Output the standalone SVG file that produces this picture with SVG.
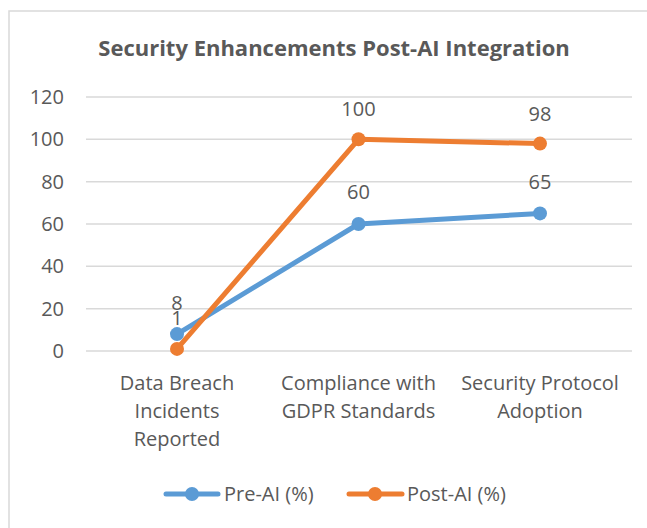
<svg xmlns="http://www.w3.org/2000/svg" width="647" height="528" viewBox="0 0 647 528">
<style>
.t{font-family:"Open Sans","DejaVu Sans",sans-serif;fill:#595959;font-size:20px}
.ttl{font-family:"Open Sans","DejaVu Sans",sans-serif;fill:#595959;font-size:22px;font-weight:bold}
.grid{stroke:#d9d9d9;stroke-width:1.5}
.pre{stroke:#5b9bd5;stroke-width:5;fill:none;stroke-linejoin:round;stroke-linecap:round}
.post{stroke:#ed7d31;stroke-width:5;fill:none;stroke-linejoin:round;stroke-linecap:round}
.mpre{fill:#5b9bd5}
.mpost{fill:#ed7d31}
</style>
<rect x="0" y="0" width="647" height="528" fill="#fff"/>
<rect x="9" y="11" width="660" height="540" fill="#fff" stroke="#d9d9d9" stroke-width="1.5"/>
<text class="ttl" x="334" y="56" text-anchor="middle">Security Enhancements Post-AI Integration</text>
<g id="grid">
<line class="grid" x1="86" y1="97" x2="632" y2="97"/>
<line class="grid" x1="86" y1="139.3" x2="632" y2="139.3"/>
<line class="grid" x1="86" y1="181.7" x2="632" y2="181.7"/>
<line class="grid" x1="86" y1="224" x2="632" y2="224"/>
<line class="grid" x1="86" y1="266.3" x2="632" y2="266.3"/>
<line class="grid" x1="86" y1="308.7" x2="632" y2="308.7"/>
<line class="grid" x1="86" y1="351" x2="632" y2="351"/>
</g>
<g id="yaxis" class="t" text-anchor="end">
<text x="64" y="104">120</text>
<text x="64" y="146.3">100</text>
<text x="64" y="188.7">80</text>
<text x="64" y="231">60</text>
<text x="64" y="273.3">40</text>
<text x="64" y="315.7">20</text>
<text x="64" y="358">0</text>
</g>
<g id="xaxis" class="t" text-anchor="middle">
<text x="177" y="390">Data Breach</text>
<text x="177" y="418">Incidents</text>
<text x="177" y="446">Reported</text>
<text x="358.5" y="390">Compliance with</text>
<text x="358.5" y="418">GDPR Standards</text>
<text x="540" y="390">Security Protocol</text>
<text x="540" y="418">Adoption</text>
</g>
<g id="connectors">
<polyline class="pre" points="177,334.1 358.5,224 540,213.4"/>
<polyline class="post" points="177,348.9 358.5,139.3 540,143.6"/>
</g>
<g id="series-pre">
<circle class="mpre" cx="177" cy="334.1" r="7"/>
<circle class="mpre" cx="358.5" cy="224" r="7"/>
<circle class="mpre" cx="540" cy="213.4" r="7"/>
</g>
<g id="series-post">
<circle class="mpost" cx="177" cy="348.9" r="7"/>
<circle class="mpost" cx="358.5" cy="139.3" r="7"/>
<circle class="mpost" cx="540" cy="143.6" r="7"/>
</g>
<g id="labels" class="t" text-anchor="middle">
<text x="177" y="310">8</text>
<text x="177" y="325">1</text>
<text x="358.5" y="199">60</text>
<text x="540" y="189">65</text>
<text x="358.5" y="116">100</text>
<text x="540" y="121">98</text>
</g>
<g id="legend">
<line class="pre" x1="166" y1="494" x2="218" y2="494"/>
<circle class="mpre" cx="192" cy="494" r="7"/>
<text class="t" x="224" y="501">Pre-AI (%)</text>
<line class="post" x1="349" y1="494" x2="402" y2="494"/>
<circle class="mpost" cx="375" cy="494" r="7"/>
<text class="t" x="407" y="501">Post-AI (%)</text>
</g>
</svg>
